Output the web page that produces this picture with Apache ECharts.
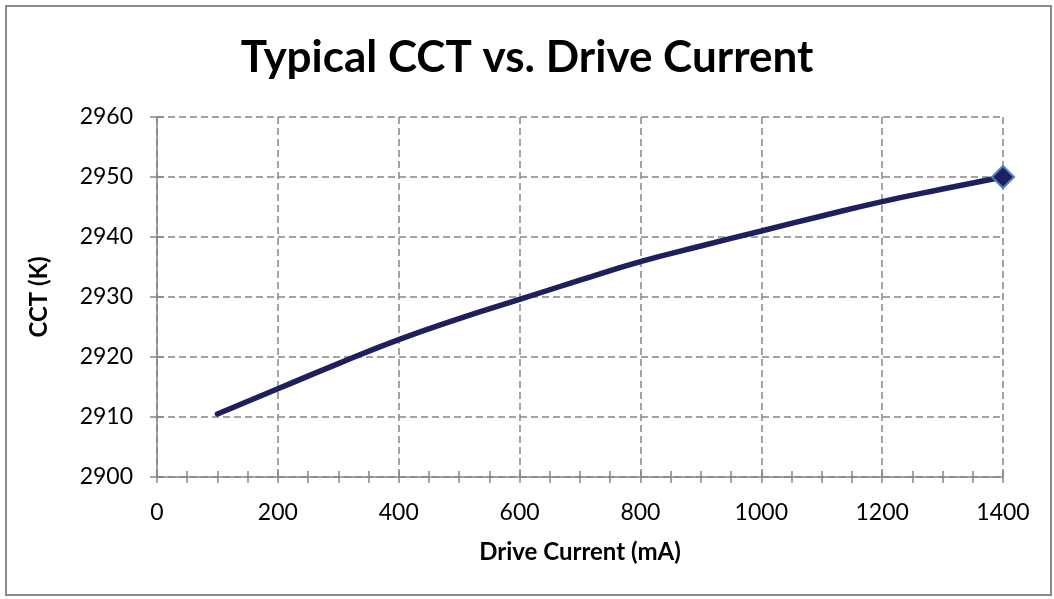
<!DOCTYPE html>
<html>
<head>
<meta charset="utf-8">
<script src="https://cdn.jsdelivr.net/npm/echarts@6/dist/echarts.min.js"></script>
<style>
  html, body { margin: 0; padding: 0; background: #fff; }
  #frame { position: absolute; left: 5px; top: 5px; width: 1043px; height: 587px; border: 2px solid #8a8a8a; }
  #main { position: absolute; left: 0; top: 0; width: 1054px; height: 599px; }
</style>
</head>
<body>
<div id="frame"></div>
<div id="main"></div>
<script>
// drive current (mA) and CCT (K)
var current = [100, 200, 300, 400, 500, 600, 700, 800, 900, 1000, 1100, 1200, 1300, 1400];
var cct = [2910.5, 2914.7, 2918.9, 2922.9, 2926.4, 2929.6, 2932.8, 2935.9, 2938.5, 2941.0, 2943.5, 2945.9, 2948.0, 2950.0];
var yTicks = [2900, 2910, 2920, 2930, 2940, 2950, 2960];
var xTicks = [0, 200, 400, 600, 800, 1000, 1200, 1400];

var font = 'Lato, "Open Sans", sans-serif';
var gray = '#868686';

var points = [];
for (var i = 0; i < current.length; i++) {
  var p = { value: [current[i], cct[i]] };
  if (i === current.length - 1) {
    p.symbol = 'diamond';
    p.symbolSize = 22;
    p.itemStyle = { color: '#1f1f5e', borderColor: '#4f81bd', borderWidth: 2 };
  }
  points.push(p);
}

function plain(v) { return String(v); }

var chart = echarts.init(document.getElementById('main'));
chart.setOption({
  animation: false,
  title: {
    text: 'Typical CCT vs. Drive Current',
    left: 'center',
    top: 31,
    textStyle: { fontFamily: font, fontWeight: 'bold', fontSize: 44, color: '#000' }
  },
  grid: { left: 157, right: 51, top: 117, bottom: 122 },
  xAxis: [{
    type: 'value',
    min: xTicks[0],
    max: xTicks[xTicks.length - 1],
    interval: 200,
    name: 'Drive Current (mA)',
    nameLocation: 'middle',
    nameGap: 63,
    nameTextStyle: { fontFamily: font, fontWeight: 'bold', fontSize: 24, color: '#000' },
    axisLine: { lineStyle: { color: gray, width: 1.5 } },
    axisTick: { show: true, length: 6, lineStyle: { color: gray, width: 1.5 } },
    minorTick: { show: true, splitNumber: 4, length: 6, lineStyle: { color: gray, width: 1.5 } },
    axisLabel: { margin: 24, fontFamily: font, fontSize: 23, color: '#000', formatter: plain },
    splitLine: { show: true, lineStyle: { color: gray, width: 1.5, type: [7, 4] } }
  }, {
    type: 'value',
    position: 'bottom',
    min: xTicks[0],
    max: xTicks[xTicks.length - 1],
    interval: 200,
    axisLine: { show: false },
    axisTick: { show: true, inside: true, length: 6, lineStyle: { color: gray, width: 1.5 } },
    minorTick: { show: true, splitNumber: 4, length: 6, lineStyle: { color: gray, width: 1.5 } },
    axisLabel: { show: false },
    splitLine: { show: false }
  }],
  yAxis: [{
    type: 'value',
    min: yTicks[0],
    max: yTicks[yTicks.length - 1],
    interval: 10,
    name: 'CCT (K)',
    nameLocation: 'middle',
    nameGap: 106,
    nameTextStyle: { fontFamily: font, fontWeight: 'bold', fontSize: 24, color: '#000' },
    axisLine: { show: true, lineStyle: { color: gray, width: 1.5 } },
    axisTick: { show: true, length: 7, lineStyle: { color: gray, width: 1.5 } },
    axisLabel: { margin: 24, fontFamily: font, fontSize: 23, color: '#000', formatter: plain },
    splitLine: { show: true, lineStyle: { color: gray, width: 1.5, type: [7, 4] } }
  }, {
    type: 'value',
    position: 'left',
    min: yTicks[0],
    max: yTicks[yTicks.length - 1],
    interval: 10,
    axisLine: { show: false },
    axisTick: { show: true, inside: true, length: 7, lineStyle: { color: gray, width: 1.5 } },
    axisLabel: { show: false },
    splitLine: { show: false }
  }],
  series: [{
    type: 'line',
    data: points,
    smooth: true,
    symbol: 'none',
    showSymbol: true,
    lineStyle: { color: '#1f1f5e', width: 5.5, cap: 'round' },
    itemStyle: { color: '#1f1f5e' }
  }]
});
</script>
</body>
</html>
